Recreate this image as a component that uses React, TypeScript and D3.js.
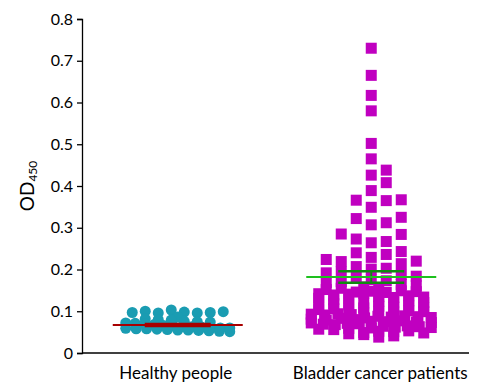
import * as d3 from "d3";
import { useLayoutEffect, useRef } from "react";

const categories = ["Healthy people", "Bladder cancer patients"];

const healthyValues = [
  0.097, 0.1, 0.096, 0.103, 0.098, 0.096, 0.097, 0.099,
  0.086, 0.082, 0.08, 0.079, 0.076, 0.075, 0.074, 0.072, 0.071, 0.07,
  0.068, 0.066, 0.065, 0.064, 0.063, 0.062, 0.061, 0.06, 0.06, 0.059,
  0.058, 0.058, 0.057, 0.056, 0.055, 0.055, 0.054, 0.053, 0.052, 0.051,
];

const bladderValues = [
  0.73, 0.665, 0.617, 0.58, 0.502, 0.465, 0.438, 0.426, 0.408, 0.389,
  0.366, 0.367, 0.365, 0.349, 0.325, 0.322, 0.312, 0.307, 0.284, 0.285,
  0.273, 0.267, 0.264,
  0.243, 0.236, 0.24, 0.229, 0.224, 0.219, 0.22, 0.214, 0.207, 0.201,
  0.203, 0.194, 0.188, 0.192, 0.181, 0.176, 0.184, 0.171, 0.164, 0.169,
  0.173, 0.158, 0.152, 0.161, 0.155, 0.157,
  0.146, 0.142, 0.148, 0.139, 0.145, 0.141, 0.149, 0.143, 0.147,
  0.131, 0.135, 0.128, 0.133, 0.137, 0.129, 0.134,
  0.12, 0.124, 0.116, 0.122, 0.118, 0.125, 0.115, 0.121,
  0.108, 0.112, 0.104, 0.11, 0.106, 0.113, 0.103, 0.109,
  0.096, 0.1, 0.093, 0.098, 0.091, 0.101, 0.094, 0.099, 0.092,
  0.084, 0.088, 0.081, 0.086, 0.079, 0.089, 0.083, 0.087, 0.08, 0.085,
  0.072, 0.076, 0.069, 0.075, 0.068, 0.077, 0.071, 0.074, 0.073, 0.07,
  0.06, 0.064, 0.057, 0.062, 0.056, 0.065, 0.059, 0.063, 0.061,
  0.049, 0.052, 0.046, 0.051, 0.044, 0.053, 0.048,
  0.038, 0.041,
];

// mean and SEM
const groupMeans = [0.067, 0.182];
const groupSems = [0.0025, 0.014];

const yTicks = [0, 0.1, 0.2, 0.3, 0.4, 0.5, 0.6, 0.7, 0.8];

const WIDTH = 482;
const HEIGHT = 389;
const MARGIN = { top: 19, right: 13, bottom: 36, left: 82 };

// dense part: bin values in rows and spread each row sideways
function dotRows(values, y, binSize, step, maxCols) {
  const bins = d3.group(values, (v) => Math.floor(v / binSize));
  const out = [];
  for (const row of bins.values()) {
    const n = row.length;
    const st = n > maxCols ? ((maxCols - 1) * step) / (n - 1) : step;
    row.forEach((v, k) => {
      out.push({ dx: (k - (n - 1) / 2) * st, py: y(v) });
    });
  }
  return out;
}

// sparse part: greedy column swarm from the bottom up, avoiding what is placed
function swarm(values, y, step, gap, maxCol, placedPts) {
  const order = [0];
  for (let i = 1; i <= maxCol; i++) order.push(i, -i);
  const out = [];
  [...values].sort((a, b) => a - b).forEach((v) => {
    const py = y(v);
    let best = 0;
    let bestDist = -1;
    for (const c of order) {
      const dx = c * step;
      const near = placedPts.concat(out).filter((p) => Math.abs(p.dx - dx) < step * 0.8);
      const minD = near.length ? d3.min(near, (q) => Math.abs(q.py - py)) : Infinity;
      if (minD >= gap) {
        best = c;
        break;
      }
      if (minD > bestDist) {
        bestDist = minD;
        best = c;
      }
    }
    out.push({ dx: best * step, py });
  });
  return out;
}

export default function App() {
  const svgRef = useRef(null);

  useLayoutEffect(() => {
    const svg = d3.select(svgRef.current);
    svg.selectAll("*").remove();

    const x = d3
      .scalePoint()
      .domain(categories)
      .range([MARGIN.left, WIDTH - MARGIN.right])
      .padding(0.5);
    const y = d3
      .scaleLinear()
      .domain([0, 0.8])
      .range([HEIGHT - MARGIN.bottom, MARGIN.top]);

    const font = "Lato, 'Open Sans', sans-serif";

    // y axis
    const yAxis = svg
      .append("g")
      .attr("transform", `translate(${MARGIN.left},0)`)
      .call(
        d3
          .axisLeft(y)
          .tickValues(yTicks)
          .tickSize(5)
          .tickPadding(4)
          .tickFormat((d) => (d === 0 ? "0" : d3.format(".1f")(d)))
      );
    yAxis.select(".domain").attr("stroke", "#000").attr("stroke-width", 1.3);
    yAxis.selectAll("line").attr("stroke", "#000").attr("stroke-width", 1.3);
    yAxis
      .selectAll("text")
      .attr("fill", "#000")
      .style("font-family", font)
      .style("font-size", "16px");

    // x axis line
    svg
      .append("line")
      .attr("x1", MARGIN.left)
      .attr("x2", WIDTH - MARGIN.right)
      .attr("y1", y(0))
      .attr("y2", y(0))
      .attr("stroke", "#000")
      .attr("stroke-width", 1.3);

    svg
      .append("g")
      .selectAll("text")
      .data(categories)
      .join("text")
      .attr("x", (d) => x(d) + (d === categories[1] ? 8 : -3))
      .attr("y", HEIGHT - 10)
      .attr("text-anchor", "middle")
      .style("font-family", font)
      .style("font-size", "17px")
      .attr("fill", "#000")
      .text((d) => d);

    // y title
    const title = svg
      .append("text")
      .attr("transform", `translate(34,${(y(0) + y(0.8)) / 2}) rotate(-90)`)
      .attr("text-anchor", "middle")
      .style("font-family", font)
      .style("font-size", "19px")
      .attr("fill", "#000");
    title.append("tspan").text("OD");
    title.append("tspan").attr("font-size", "12px").attr("dy", 3).text("450");

    // healthy circles
    const hx = x(categories[0]) - 1;
    const healthy = dotRows(healthyValues, y, 0.012, 13, 9);
    svg
      .append("g")
      .selectAll("circle")
      .data(healthy)
      .join("circle")
      .attr("cx", (d) => hx + d.dx)
      .attr("cy", (d) => d.py)
      .attr("r", 5.5)
      .attr("fill", "#1a9cb2");

    // bladder squares
    const bx = x(categories[1]) - 1;
    const split = 0.16;
    const dense = dotRows(bladderValues.filter((v) => v < split), y, 0.012, 15, 9);
    const sparse = swarm(bladderValues.filter((v) => v >= split), y, 15, 10, 3, dense);
    const bladder = dense.concat(sparse);
    const s = 11;
    svg
      .append("g")
      .selectAll("rect")
      .data(bladder)
      .join("rect")
      .attr("x", (d) => bx + d.dx - s / 2)
      .attr("y", (d) => d.py - s / 2)
      .attr("width", s)
      .attr("height", s)
      .attr("fill", "#c000c0");

    // mean and SEM lines
    const styles = [
      { mean: "#a80000", sem: "#a80000", cx: hx },
      { mean: "#1ec01e", sem: "#108a10", cx: bx },
    ];
    styles.forEach((st, i) => {
      const m = groupMeans[i];
      const e = groupSems[i];
      const g = svg.append("g");
      [m + e, m - e].forEach((v) => {
        g.append("line")
          .attr("x1", st.cx - 33)
          .attr("x2", st.cx + 33)
          .attr("y1", y(v))
          .attr("y2", y(v))
          .attr("stroke", st.sem)
          .attr("stroke-width", 2.5);
      });
      g.append("line")
        .attr("x1", st.cx)
        .attr("x2", st.cx)
        .attr("y1", y(m + e))
        .attr("y2", y(m - e))
        .attr("stroke", st.sem)
        .attr("stroke-width", 2);
      g.append("line")
        .attr("x1", st.cx - 65)
        .attr("x2", st.cx + 65)
        .attr("y1", y(m))
        .attr("y2", y(m))
        .attr("stroke", st.mean)
        .attr("stroke-width", 2);
    });
  }, []);

  return (
    <svg
      ref={svgRef}
      width={WIDTH}
      height={HEIGHT}
      style={{ position: "absolute", left: 0, top: 0, background: "#fff" }}
    />
  );
}
